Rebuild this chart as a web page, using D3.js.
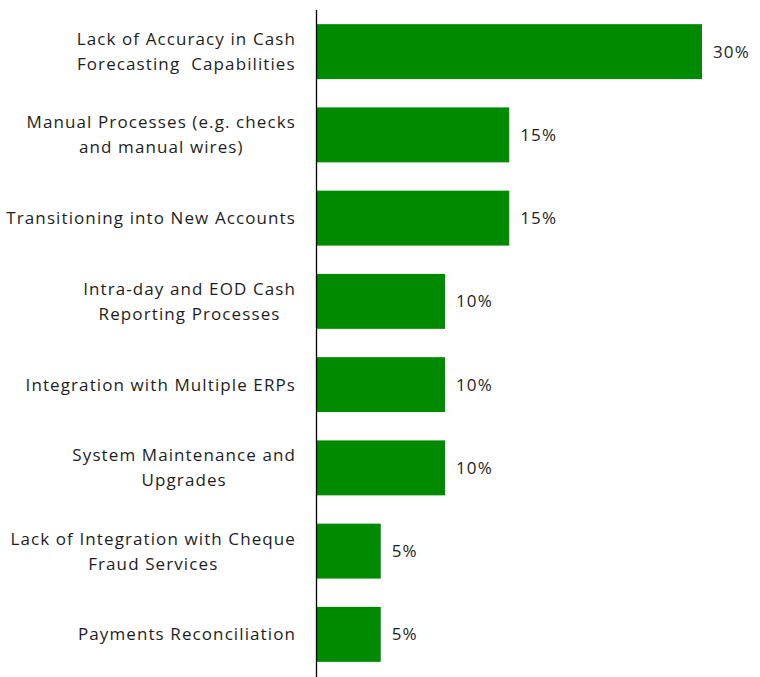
<!DOCTYPE html>
<html>
<head>
<meta charset="utf-8">
<script src="https://cdn.jsdelivr.net/npm/d3@7"></script>
<style>
  html, body { margin: 0; padding: 0; background: #fff; }
  svg { display: block; }
  text { font-family: "Open Sans", Lato, sans-serif; fill: #1e1e1e; letter-spacing: 1.1px; }
</style>
</head>
<body>
<svg id="chart" width="760" height="677"></svg>
<script>
// Challenges, with line breaks where the label wraps
const categories = [
  "Lack of Accuracy in Cash\nForecasting  Capabilities",
  "Manual Processes (e.g. checks\nand manual wires)",
  "Transitioning into New Accounts",
  "Intra-day and EOD Cash\nReporting Processes",
  "Integration with Multiple ERPs",
  "System Maintenance and\nUpgrades",
  "Lack of Integration with Cheque\nFraud Services",
  "Payments Reconciliation"
];
const values = [30, 15, 15, 10, 10, 10, 5, 5];
const valueLabels = ["30%", "15%", "15%", "10%", "10%", "10%", "5%", "5%"];

const svg = d3.select("#chart");
const barColor = "#008a00";
const fontSize = 17;

const x = d3.scaleLinear().domain([0, 30]).range([316.5, 702]);
const y = d3.scaleBand()
  .domain(categories)
  .range([10, 676])
  .paddingInner(0.34)
  .paddingOuter(0.17);

// bars
svg.append("g").selectAll("rect")
  .data(values)
  .join("rect")
  .attr("x", x(0))
  .attr("y", (d, i) => y(categories[i]))
  .attr("width", d => x(d) - x(0))
  .attr("height", y.bandwidth())
  .attr("fill", barColor);

// value labels
svg.append("g").selectAll("text")
  .data(values)
  .join("text")
  .attr("x", d => x(d) + 11)
  .attr("y", (d, i) => y(categories[i]) + y.bandwidth() / 2)
  .attr("dy", "0.35em")
  .attr("font-size", fontSize)
  .text((d, i) => valueLabels[i]);

// category axis line
const axis = svg.append("g")
  .attr("transform", `translate(${x(0)},0)`)
  .call(d3.axisLeft(y).tickSize(0).tickFormat(""));
axis.selectAll(".tick").remove();
axis.select(".domain").attr("stroke", "#000").attr("stroke-width", 1.3).attr("d", "M0,10V677");

// wrapped category labels: block right-aligned to the axis, lines centred within it
const labelRight = 296;
const lineH = 25;
svg.append("g").selectAll("text")
  .data(categories)
  .join("text")
  .attr("font-size", fontSize)
  .attr("text-anchor", "middle")
  .each(function (d) {
    const lines = d.split("\n");
    const t = d3.select(this);
    const cy = y(d) + y.bandwidth() / 2;
    const spans = lines.map((ln, k) => t.append("tspan")
      .attr("y", cy + (k - (lines.length - 1) / 2) * lineH)
      .attr("dy", "0.35em")
      .style("white-space", "pre")
      .text(ln));
    const w = d3.max(spans, s => s.node().getComputedTextLength());
    spans.forEach(s => s.attr("x", labelRight - w / 2));
  });
</script>
</body>
</html>
